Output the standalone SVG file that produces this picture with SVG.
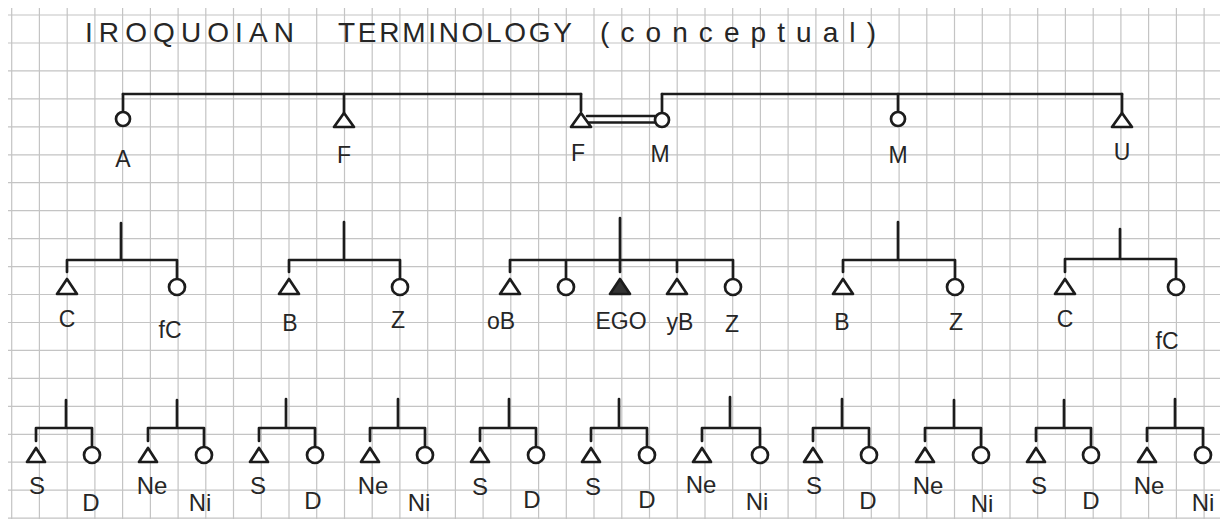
<svg xmlns="http://www.w3.org/2000/svg" width="1220" height="519" viewBox="0 0 1220 519">
<style>
.grid{stroke:#c4c4c4;stroke-width:1.2;fill:none}
.ln{stroke:#1c1c1c;stroke-width:2.7;fill:none;stroke-linecap:round;stroke-linejoin:round}
.m{stroke:#1c1c1c;stroke-width:2.7;fill:#fff;stroke-linejoin:round}
.f{stroke:#1c1c1c;stroke-width:2.7;fill:#333;stroke-linejoin:round}
text{font-family:"Liberation Sans","DejaVu Sans",sans-serif;fill:#262626}
.t{font-size:28px}
.l1{font-size:23px;text-anchor:middle}
.l2{font-size:23px;text-anchor:middle}
.l3{font-size:24px;text-anchor:middle}
</style>
<defs>
<path id="tri1" d="M0,-7 L10,7 L-10,7 Z"/>
<path id="tri2" d="M0,-8 L10,7 L-10,7 Z"/>
<path id="tri3" d="M0,-7 L9,7 L-9,7 Z"/>
</defs>
<rect width="1220" height="519" fill="#fff"/>
<g id="grid" class="grid">
<path d="M11.7,8V519M39.4,8V519M67.2,8V519M94.9,8V519M122.6,8V519M150.4,8V519M178.1,8V519M205.8,8V519M233.5,8V519M261.3,8V519M289,8V519M316.7,8V519M344.5,8V519M372.2,8V519M399.9,8V519M427.7,8V519M455.4,8V519M483.1,8V519M510.8,8V519M538.6,8V519M566.3,8V519M594,8V519M621.8,8V519M649.5,8V519M677.2,8V519M705,8V519M732.7,8V519M760.4,8V519M788.1,8V519M815.9,8V519M843.6,8V519M871.3,8V519M899.1,8V519M926.8,8V519M954.5,8V519M982.3,8V519M1010,8V519M1037.7,8V519M1065.4,8V519M1093.2,8V519M1120.9,8V519M1148.6,8V519M1176.4,8V519M1204.1,8V519"/>
<path d="M8,15H1220M8,43H1220M8,70.9H1220M8,98.9H1220M8,126.8H1220M8,154.8H1220M8,182.7H1220M8,210.7H1220M8,238.6H1220M8,266.6H1220M8,294.5H1220M8,322.5H1220M8,350.4H1220M8,378.4H1220M8,406.3H1220M8,434.3H1220M8,462.2H1220M8,490.2H1220M8,518.1H1220"/>
</g>
<g id="title">
<text class="t" x="85" y="42" textLength="209" lengthAdjust="spacing">IROQUOIAN</text>
<text class="t" x="338" y="42" textLength="234" lengthAdjust="spacing">TERMINOLOGY</text>
<text class="t" x="600" y="42" textLength="276" lengthAdjust="spacing">(conceptual)</text>
</g>
<g id="connectors" class="ln">
<path d="M123,94H581M662,94H1122"/>
<path d="M123,94V112M344,94V113M581,94V111M662,94V113M898,94V112M1122,94V113"/>
<path d="M587,116H655M589,122.5H655"/>
<path d="M121,223V260M67,260H177M67,260V272M177,260V279"/>
<path d="M344,222V260M289,260H400M289,260V272M400,260V279"/>
<path d="M620,218V260M510,260H733M510,260V272M566,260V279M620,260V272M677,260V272M733,260V279"/>
<path d="M898,222V260M843,260H955M843,260V272M955,260V279"/>
<path d="M1120,229V259M1065,259H1176M1065,259V272M1176,259V279"/>
<path d="M66,400V428M36,428H92M36,428V441M92,428V447"/>
<path d="M177,400V428M148,428H204M148,428V441M204,428V447"/>
<path d="M286,399V428M259,428H315M259,428V441M315,428V447"/>
<path d="M398,399V428M370,428H425M370,428V441M425,428V447"/>
<path d="M509,399V428M480,428H536M480,428V441M536,428V447"/>
<path d="M619,399V428M591,428H647M591,428V441M647,428V447"/>
<path d="M730,397V428M702,428H760M702,428V441M760,428V447"/>
<path d="M842,399V428M813,428H869M813,428V441M869,428V447"/>
<path d="M954,400V428M925,428H981M925,428V441M981,428V447"/>
<path d="M1064,400V428M1036,428H1091M1036,428V441M1091,428V447"/>
<path d="M1175,399V428M1147,428H1203M1147,428V441M1203,428V447"/>
</g>
<g id="n-A"><circle class="m" cx="123" cy="119" r="7"/><text class="l1" x="123" y="167">A</text></g>
<g id="n-F1"><use href="#tri1" class="m" x="344" y="120"/><text class="l1" x="344" y="163">F</text></g>
<g id="n-F2"><use href="#tri1" class="m" x="581" y="120"/><text class="l1" x="578" y="161">F</text></g>
<g id="n-M1"><circle class="m" cx="662" cy="120" r="7"/><text class="l1" x="660" y="162">M</text></g>
<g id="n-M2"><circle class="m" cx="898" cy="119" r="7"/><text class="l1" x="898" y="163">M</text></g>
<g id="n-U"><use href="#tri1" class="m" x="1122" y="120"/><text class="l1" x="1122" y="160">U</text></g>
<g id="n-C1"><use href="#tri2" class="m" x="67" y="287"/><text class="l2" x="67" y="327">C</text></g>
<g id="n-fC1"><circle class="m" cx="177" cy="287" r="8"/><text class="l2" x="170" y="338">fC</text></g>
<g id="n-B1"><use href="#tri2" class="m" x="289" y="287"/><text class="l2" x="290" y="331">B</text></g>
<g id="n-Z1"><circle class="m" cx="400" cy="287" r="8"/><text class="l2" x="398" y="328">Z</text></g>
<g id="n-oB"><use href="#tri2" class="m" x="510" y="287"/><text class="l2" x="501" y="329">oB</text></g>
<g id="n-Zo"><circle class="m" cx="566" cy="287" r="8"/></g>
<g id="n-EGO"><use href="#tri2" class="f" x="620" y="287"/><text class="l2" x="621" y="329">EGO</text></g>
<g id="n-yB"><use href="#tri2" class="m" x="677" y="287"/><text class="l2" x="680" y="330">yB</text></g>
<g id="n-Z2"><circle class="m" cx="733" cy="287" r="8"/><text class="l2" x="732" y="332">Z</text></g>
<g id="n-B2"><use href="#tri2" class="m" x="843" y="287"/><text class="l2" x="842" y="330">B</text></g>
<g id="n-Z3"><circle class="m" cx="955" cy="287" r="8"/><text class="l2" x="956" y="330">Z</text></g>
<g id="n-C2"><use href="#tri2" class="m" x="1065" y="287"/><text class="l2" x="1065" y="327">C</text></g>
<g id="n-fC2"><circle class="m" cx="1176" cy="287" r="8"/><text class="l2" x="1167" y="349">fC</text></g>
<g id="n-S1"><use href="#tri3" class="m" x="36" y="455"/><text class="l3" x="37" y="494">S</text></g>
<g id="n-D1"><circle class="m" cx="92" cy="455" r="8"/><text class="l3" x="91" y="511">D</text></g>
<g id="n-Ne1"><use href="#tri3" class="m" x="148" y="455"/><text class="l3" x="152" y="494">Ne</text></g>
<g id="n-Ni1"><circle class="m" cx="204" cy="455" r="8"/><text class="l3" x="200" y="511">Ni</text></g>
<g id="n-S2"><use href="#tri3" class="m" x="259" y="455"/><text class="l3" x="258" y="494">S</text></g>
<g id="n-D2"><circle class="m" cx="315" cy="455" r="8"/><text class="l3" x="313" y="509">D</text></g>
<g id="n-Ne2"><use href="#tri3" class="m" x="370" y="455"/><text class="l3" x="373" y="494">Ne</text></g>
<g id="n-Ni2"><circle class="m" cx="425" cy="455" r="8"/><text class="l3" x="419" y="511">Ni</text></g>
<g id="n-S3"><use href="#tri3" class="m" x="480" y="455"/><text class="l3" x="480" y="495">S</text></g>
<g id="n-D3"><circle class="m" cx="536" cy="455" r="8"/><text class="l3" x="532" y="508">D</text></g>
<g id="n-S4"><use href="#tri3" class="m" x="591" y="455"/><text class="l3" x="593" y="495">S</text></g>
<g id="n-D4"><circle class="m" cx="647" cy="455" r="8"/><text class="l3" x="647" y="508">D</text></g>
<g id="n-Ne3"><use href="#tri3" class="m" x="702" y="455"/><text class="l3" x="701" y="493">Ne</text></g>
<g id="n-Ni3"><circle class="m" cx="760" cy="455" r="8"/><text class="l3" x="757" y="510">Ni</text></g>
<g id="n-S5"><use href="#tri3" class="m" x="813" y="455"/><text class="l3" x="814" y="494">S</text></g>
<g id="n-D5"><circle class="m" cx="869" cy="455" r="8"/><text class="l3" x="868" y="509">D</text></g>
<g id="n-Ne4"><use href="#tri3" class="m" x="925" y="455"/><text class="l3" x="928" y="494">Ne</text></g>
<g id="n-Ni4"><circle class="m" cx="981" cy="455" r="8"/><text class="l3" x="982" y="512">Ni</text></g>
<g id="n-S6"><use href="#tri3" class="m" x="1036" y="455"/><text class="l3" x="1039" y="494">S</text></g>
<g id="n-D6"><circle class="m" cx="1091" cy="455" r="8"/><text class="l3" x="1091" y="509">D</text></g>
<g id="n-Ne5"><use href="#tri3" class="m" x="1147" y="455"/><text class="l3" x="1149" y="494">Ne</text></g>
<g id="n-Ni5"><circle class="m" cx="1203" cy="455" r="8"/><text class="l3" x="1203" y="511">Ni</text></g>
</svg>
